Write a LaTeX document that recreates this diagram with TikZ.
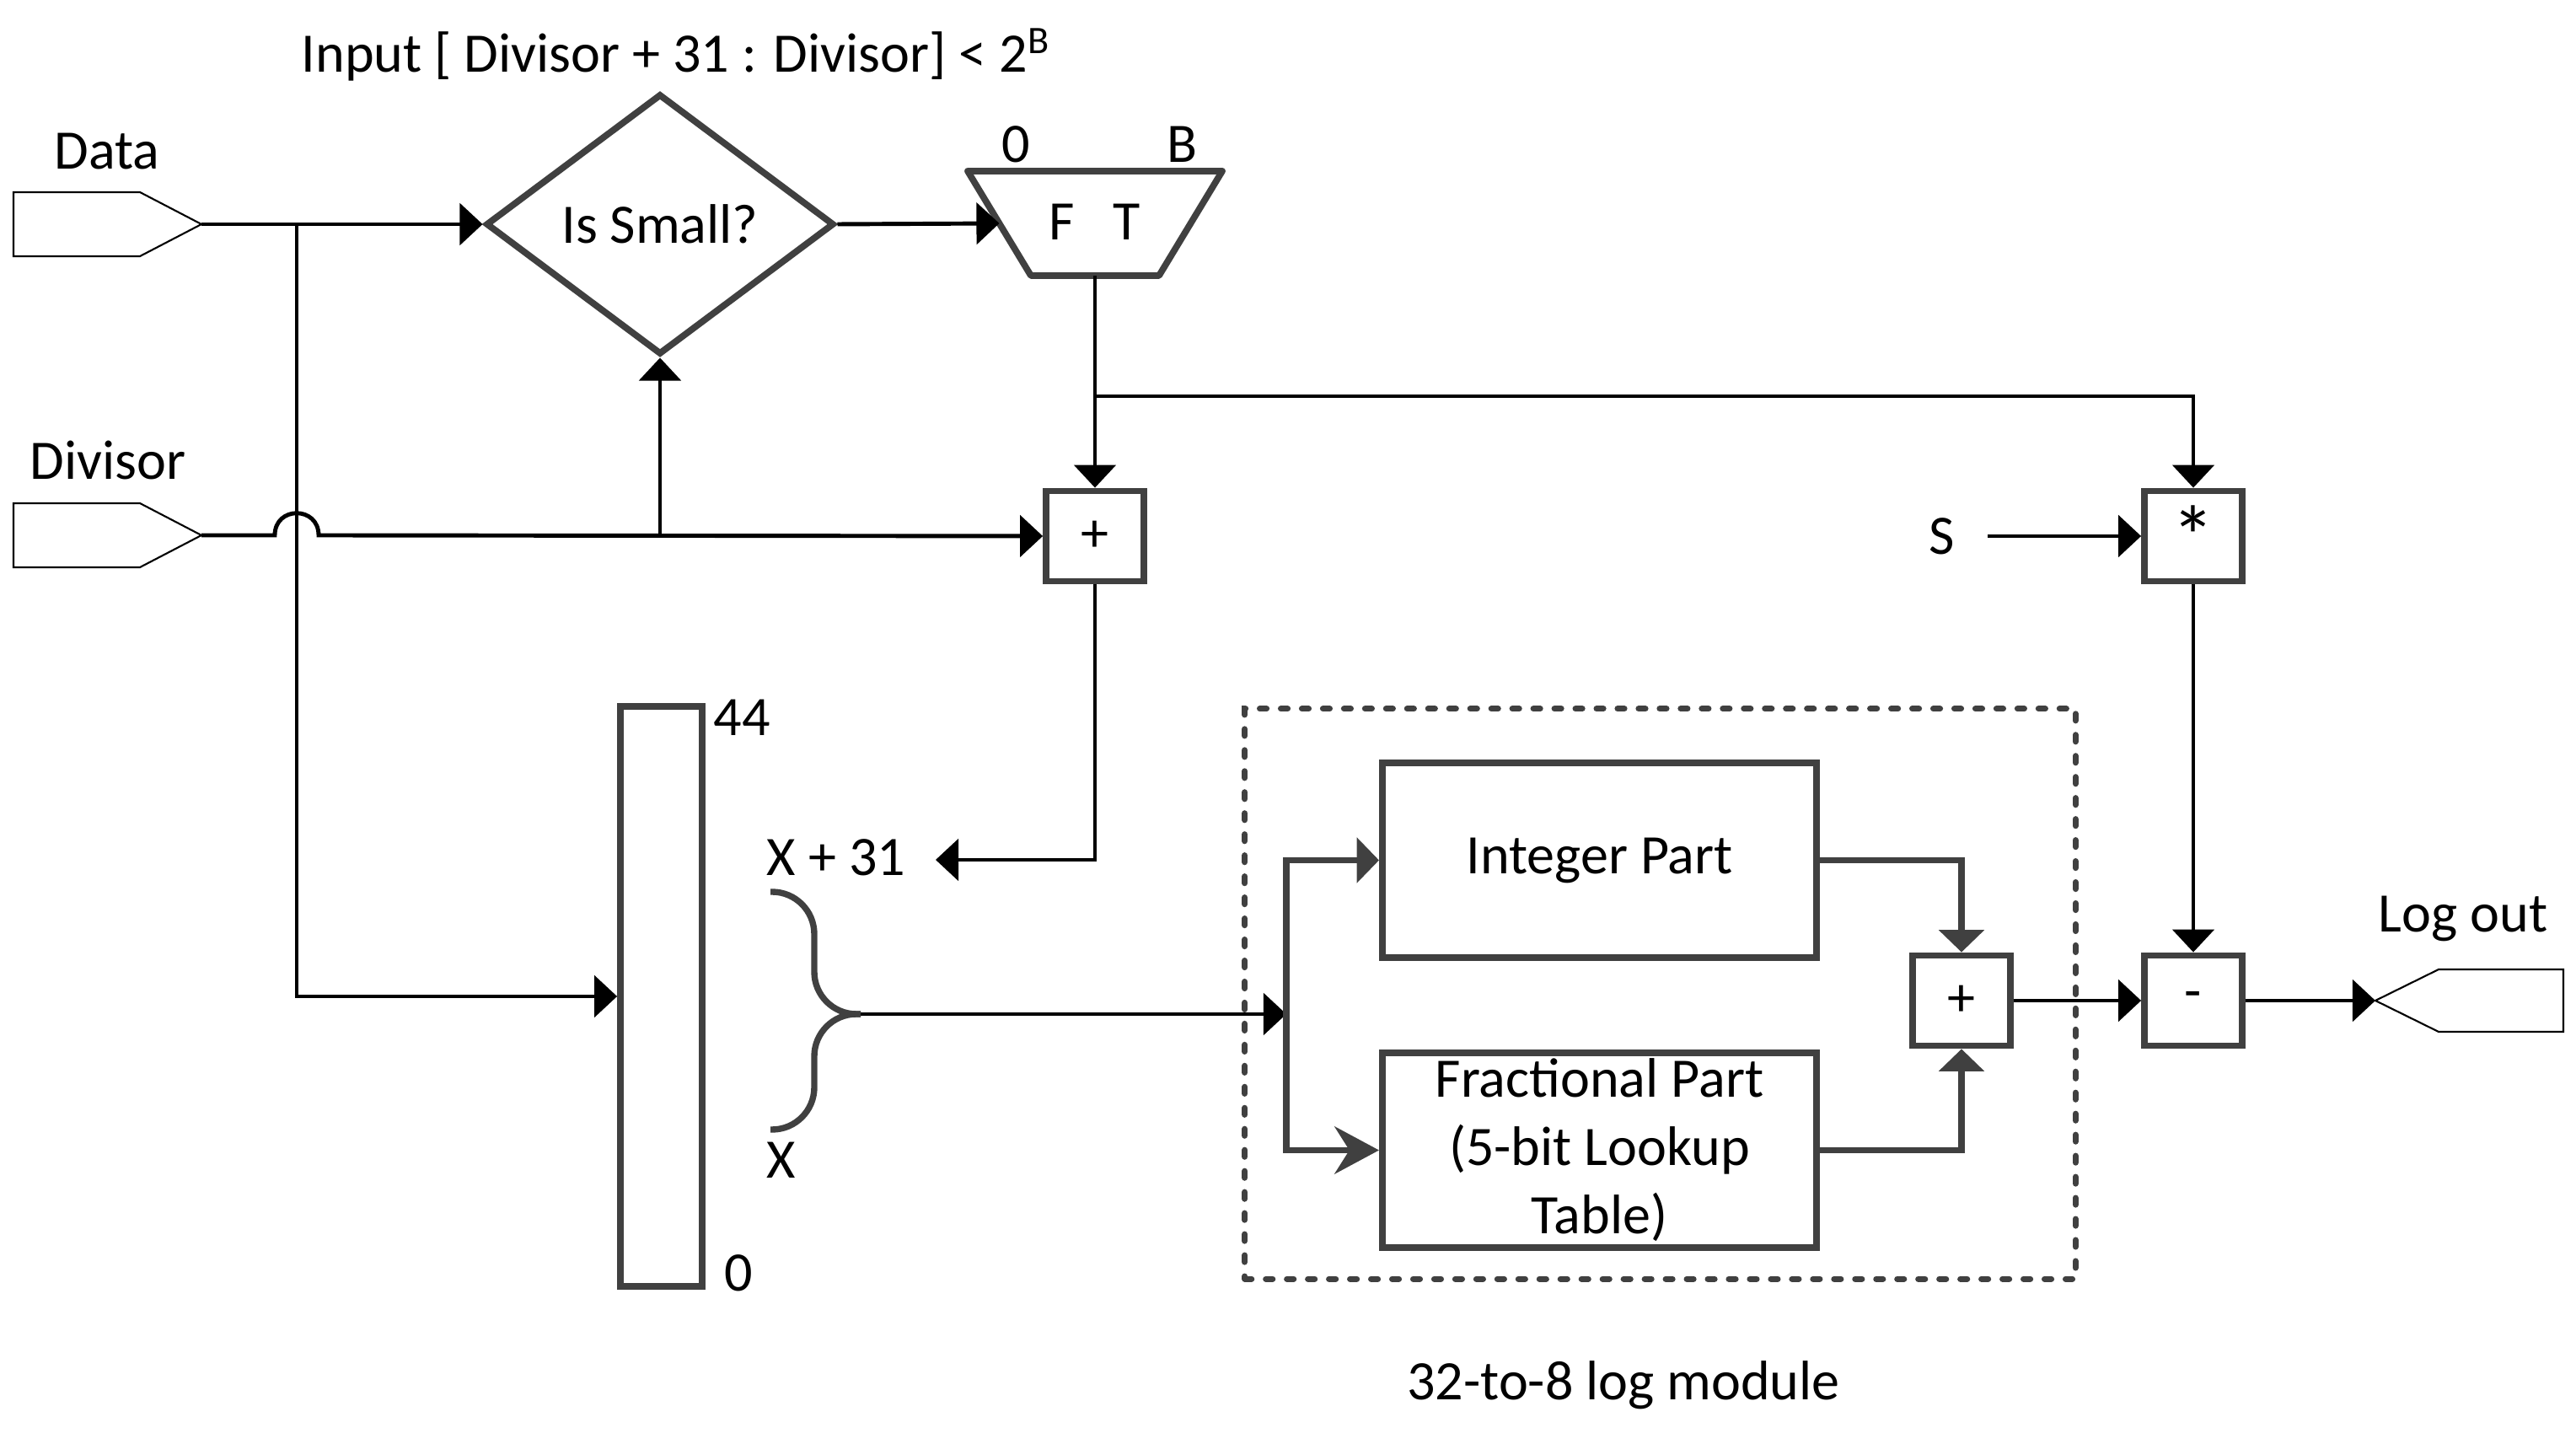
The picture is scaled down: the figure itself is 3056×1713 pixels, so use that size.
\documentclass[tikz,border=0pt]{standalone}
\usepackage{fontspec}
\setmainfont{Carlito}
\usetikzlibrary{arrows.meta,shapes.geometric,calc}
\definecolor{shapegray}{HTML}{404040}
\begin{document}
\begin{tikzpicture}[x=0.01cm,y=-0.01cm,
  font=\fontsize{18.8}{23}\selectfont,
  conn/.style={line width=1.4pt, draw=black},
  arr/.style={conn,-{Triangle[length=7.7pt,width=14pt]}},
  gconn/.style={line width=2.1pt, draw=shapegray},
  garr/.style={gconn,-{Triangle[length=7.5pt,width=15pt]}},
  gstealth/.style={gconn,-{Stealth[length=15pt,width=16pt,inset=5pt]}},
  box/.style={draw=shapegray, line width=2.2pt, fill=white, rectangle, inner sep=0pt},
  opbox/.style={box, minimum width=1.16cm, minimum height=1.07cm},
  port/.style={draw=black, line width=0.6pt, fill=white},
  lbl/.style={inner sep=0pt, anchor=base},
]
\useasboundingbox (0,0) rectangle (3056,1713);

% dashed module frame (behind)
\node[draw=shapegray, line width=2pt, dash pattern=on 2.3pt off 4.8pt, line cap=round,
      minimum width=9.85cm, minimum height=6.76cm, inner sep=0pt] (module) at (1969.5,1179) {};

% ports
\draw[port] (16,228) -- (166,228) -- (239,266) -- (166,304) -- (16,304) -- cycle;
\coordinate (datatip) at (239,266);
\draw[port] (16,597) -- (166,597) -- (239,635) -- (166,673) -- (16,673) -- cycle;
\coordinate (divtip) at (239,635);
\draw[port] (2818,1187) -- (2893,1150) -- (3041,1150) -- (3041,1224) -- (2893,1224) -- cycle;
\coordinate (logtip) at (2818,1187);

% labels
\node[lbl] (datalbl) at (127,201) {Data};
\node[lbl] (divlbl) at (128,569) {Divisor};
\node[lbl] (title) at (802,86) {Input [ Divisor + 31 : Divisor] < 2\textsuperscript{B}};
\node[lbl] (loglbl) at (2922,1106) {Log out};
\node[lbl] (modlbl) at (1926,1661) {32-to-8 log module};

% diamond
\node[diamond, draw=shapegray, line width=2.2pt, aspect=1.337, minimum width=4.13cm, minimum height=3.09cm, inner sep=0pt] (small) at (783,266) {Is Small?};

% mux
\draw[shapegray, line width=2.2pt, line join=round] (1148,203) -- (1450,203) -- (1375,327) -- (1223,327) -- cycle;
\coordinate (muxin) at (1185.5,265);
\coordinate (muxout) at (1299,327);
\node[lbl] (mux0) at (1205,193) {0};
\node[lbl] (muxB) at (1402,193) {B};
\node[lbl] (muxF) at (1260,285) {F};
\node[lbl] (muxT) at (1337,285) {T};

% operator boxes
\node[opbox] (add1) at (1299,636) {+};
\node[opbox] (mul) at (2602,636) {\raisebox{-3pt}{\scalebox{1.55}{*}}};
\node[opbox] (add2) at (2327,1187) {+};
\node[opbox] (sub) at (2602,1187) {-};

% register
\node[box, minimum width=0.97cm, minimum height=6.88cm] (reg) at (784.5,1182) {};
\node[lbl, anchor=base west] (r44) at (846,873) {44};
\node[lbl] (r0) at (876,1532) {0};

% module boxes
\node[box, minimum width=5.15cm, minimum height=2.31cm] (int) at (1897.5,1020.5) {Integer Part};
\node[box, minimum width=5.15cm, minimum height=2.31cm, align=center] (frac) at (1897.5,1364.5) {Fractional Part\\(5-bit Lookup\\Table)};

% S input
\node[lbl] (slbl) at (2304,658) {S};
\coordinate (sstart) at (2358,636);

% coordinates for junctions
\coordinate (databr) at (352,266);
\coordinate (hopL) at (326,635);
\coordinate (hopR) at (378,635);
\coordinate (divbr) at (783,635);
\coordinate (muxbr) at (1299,470);
\coordinate (x31tip) at (1110,1020);
\coordinate (brtip) at (1021,1203);
\coordinate (split) at (1526,1203);

\node[lbl] (x31) at (992,1039) {X + 31};
\node[lbl] (xlbl) at (927,1398) {X};

% connectors
\draw[arr] (datatip) -- (small.west);
\draw[arr] (databr) |- (reg.west);
\draw[arr] (divtip) -- (hopL) .. controls ($(hopL)+(0,-35)$) and ($(hopR)+(0,-35)$) .. (hopR) -- (add1.west);
\draw[arr] (divbr) -- (small.south);
\draw[arr] (small.east) -- (muxin);
\draw[arr] (muxout) -- (add1.north);
\draw[arr] (muxbr) -| (mul.north);
\draw[arr] (add1.south) |- (x31tip);
\draw[arr] (sstart) -- (mul.west);
\draw[arr] (mul.south) -- (sub.north);

% brace
\draw[gconn, rounded corners=0.5cm] (914,1058) -| (966,1203) -- (brtip);
\draw[gconn, rounded corners=0.5cm] (914,1340) -| (966,1203) -- (brtip);

\draw[arr] (brtip) -- (split);
\draw[garr] (split) |- (int.west);
\draw[gstealth] (split) |- (frac.west);
\draw[garr] (int.east) -| (add2.north);
\draw[garr] (frac.east) -| (add2.south);
\draw[arr] (add2.east) -- (sub.west);
\draw[arr] (sub.east) -- (logtip);
\end{tikzpicture}
\end{document}
